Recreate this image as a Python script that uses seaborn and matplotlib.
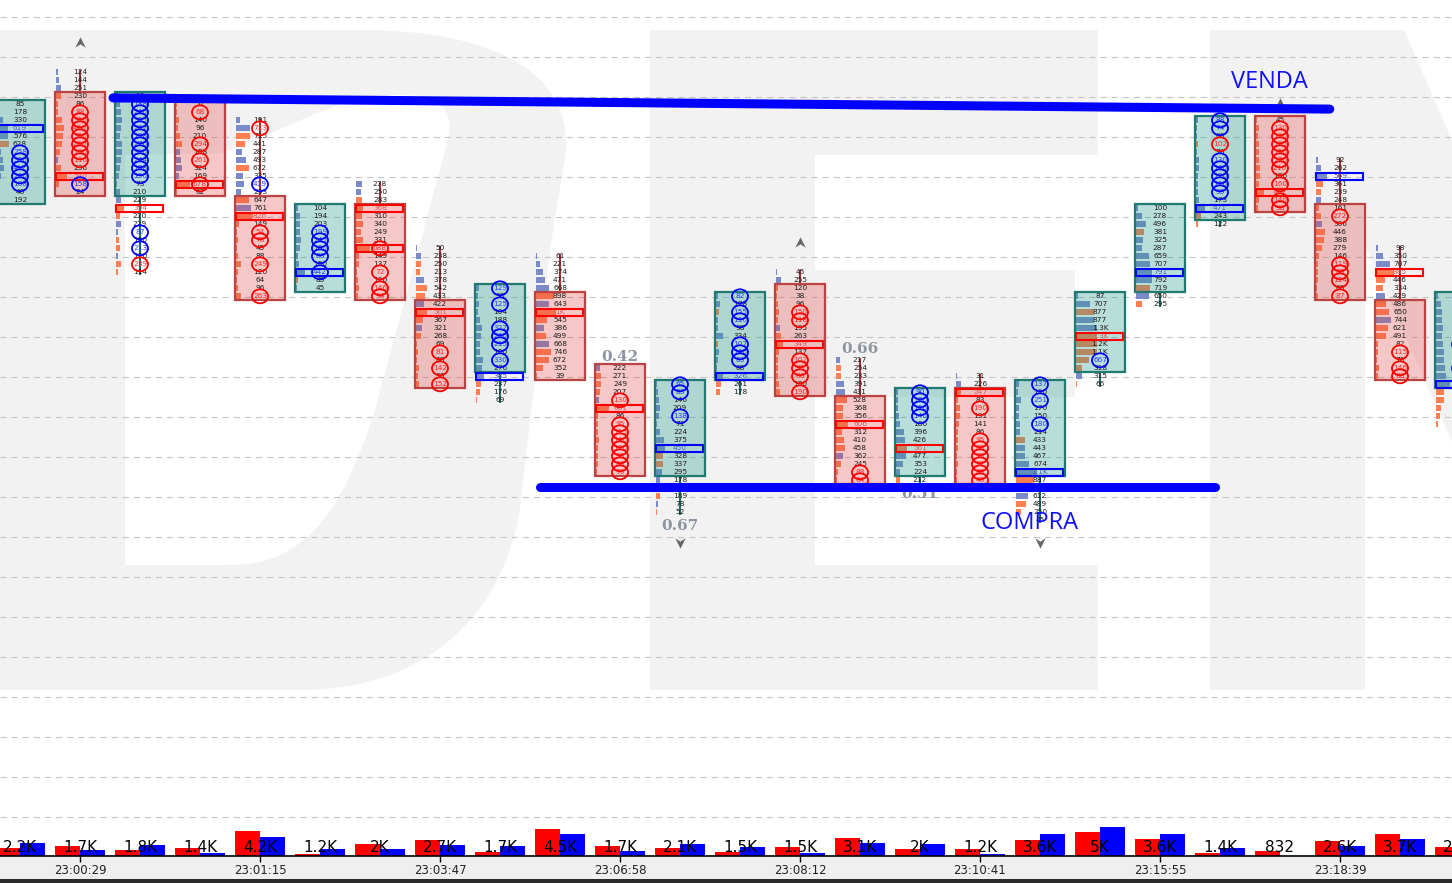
import numpy as np
import pandas as pd
import matplotlib
matplotlib.use("Agg")
import matplotlib.pyplot as plt
import seaborn as sns
from matplotlib.patches import Rectangle, Ellipse, Polygon, PathPatch
from matplotlib.path import Path
import matplotlib.transforms as mtransforms
from matplotlib.colors import to_rgba

# ---------------- data ----------------
time_labels = ["23:00:29", "23:01:15", "23:03:47", "23:06:58",
               "23:08:12", "23:10:41", "23:15:55", "23:18:39"]
time_pos = [1, 4, 7, 10, 13, 16, 19, 22]

candle_dir = "ududd" "uddud" "duudd" "uduuu" "udddu"
candle_top = [94, 98, 95, 94, 92, 81, 84, 76, 71, 75, 61, 59, 70, 73, 62, 58,
              60, 59, 70, 81, 92, 92, 87, 76, 70]
body_hi = [94, 95, 95, 94, 82, 81, 81, 69, 71, 70, 61, 59, 70, 71, 57, 58,
           58, 59, 70, 81, 92, 92, 81, 69, 70]
body_lo = [82, 83, 83, 83, 70, 71, 70, 59, 61, 60, 48, 48, 60, 58, 47, 48,
           47, 48, 61, 71, 80, 81, 70, 60, 59]
candle_vols = [
    [85, 178, 330, 619, 576, 628, 258, 330, 412, 260, 108, 40, 192],
    [124, 144, 251, 230, 86, 88, 310, 420, 350, 280, 190, 116, 236, 540, 158, 24],
    [96, 188, 240, 305, 262, 198, 276, 310, 244, 188, 156, 73, 210, 229, 394, 210,
     229, 87, 150, 213, 120, 239, 114],
    [51, 68, 140, 96, 210, 294, 188, 261, 324, 169, 678, 62],
    [191, 713, 715, 441, 287, 493, 672, 335, 419, 233, 647, 761, 826, 149, 54, 78,
     45, 88, 249, 120, 64, 96, 263],
    [104, 194, 203, 199, 245, 180, 88, 150, 442, 85, 45],
    [278, 250, 283, 368, 310, 340, 249, 331, 688, 149, 137, 72, 120, 146, 94],
    [50, 238, 250, 213, 378, 542, 433, 422, 561, 367, 321, 268, 69, 81, 60, 142, 90, 152],
    [129, 98, 125, 104, 188, 322, 260, 215, 180, 330, 276, 385, 237, 176, 69],
    [61, 221, 374, 471, 668, 898, 643, 1000, 545, 386, 499, 668, 746, 672, 352, 39],
    [222, 271, 249, 207, 130, 661, 86, 95, 115, 140, 120, 98, 86, 70],
    [65, 83, 146, 209, 138, 71, 224, 375, 450, 328, 337, 295, 178, 241, 189, 78, 52],
    [82, 178, 155, 110, 98, 334, 107, 140, 83, 68, 326, 261, 178],
    [45, 255, 120, 38, 96, 150, 118, 195, 263, 349, 137, 102, 95, 86, 130, 190],
    [217, 254, 233, 391, 431, 528, 368, 356, 606, 312, 410, 458, 362, 245, 88, 64],
    [90, 120, 116, 140, 186, 396, 426, 561, 477, 353, 224, 212],
    [31, 226, 247, 83, 190, 191, 141, 86, 95, 88, 70, 92, 66, 40],
    [137, 110, 251, 170, 150, 180, 214, 433, 443, 467, 674, 1100, 887, 760, 612,
     489, 250, 45],
    [87, 707, 877, 877, 1300, 1300, 1200, 1100, 667, 318, 315, 66],
    [100, 278, 496, 381, 325, 287, 659, 707, 791, 792, 719, 650, 295],
    [88, 74, 60, 102, 70, 130, 140, 120, 116, 95, 173, 471, 243, 122],
    [45, 130, 110, 125, 150, 170, 210, 186, 160, 422, 140, 98],
    [92, 262, 569, 361, 239, 248, 161, 272, 306, 446, 388, 279, 146, 119, 80, 124, 66, 87],
    [98, 350, 707, 885, 446, 334, 429, 486, 650, 744, 621, 491, 82, 115, 70, 146, 88],
    [120, 230, 310, 280, 350, 290, 330, 410, 380, 460, 520, 690, 420, 380, 250, 180, 90],
]
bar_colors = [
    "bbbbbobbbbbbb",
    "bbb" + "oooooooo" + "b" + "oooo",
    "b" * 13 + "boobbooboo",
    "oooooobbbboo",
    "bboobbobbbob" + "o" * 11,
    "bbbbbbbbbob",
    "bb" + "o" * 13,
    "bboobooboob" + "o" * 7,
    "b" * 12 + "ooo",
    "bbbbbobo" + "oboboooo",
    "booob" + "o" * 9,
    "b" * 9 + "oobboobo",
    "bbobbbobbbboo",
    "bb" + "ooooo" + "b" + "o" * 8,
    "boobb" + "o" * 7 + "b" + "ooo",
    "b" * 7 + "obbbo",
    "bb" + "o" * 12,
    "b" * 7 + "o" + "bbbb" + "oo" + "b" + "ooo",
    "bbobbooooobo",
    "bbbobbbbbbobo",
    "bbbobbbbbbbboo",
    "o" * 12,
    "bbboob" + "oob" + "o" * 9,
    "bbbooob" + "oob" + "o" * 7,
    "b" * 12 + "o" * 5,
]
poc_rows = [[91], [85], [81], [84], [80], [73], [81, 76], [68], [60], [68], [56], [51],
            [60], [64], [54], [51], [58], [48], [65], [73], [81], [83], [85], [73], [59]]
poc_colors = ["b", "r", "r", "r", "r", "b", "rr", "r", "b", "r", "r", "b",
              "b", "r", "r", "r", "r", "b", "r", "b", "b", "r", "b", "r", "b"]
circle_rows = [
    [88, 87, 86, 85, 84], [93, 92, 91, 90, 89, 88, 87, 84],
    [94, 93, 92, 91, 90, 89, 88, 87, 86, 85, 78, 76, 74], [93, 89, 87, 84],
    [91, 84, 78, 77, 74, 70], [78, 77, 76, 75, 73], [76, 73, 71, 70], [63, 61, 59],
    [71, 69, 66, 65, 64, 62], [], [57, 54, 53, 52, 51, 50, 49, 48], [59, 58, 55],
    [70, 68, 67, 64, 63, 62], [68, 67, 62, 61, 60, 58], [48, 47], [58, 57, 56, 55],
    [56, 52, 51, 50, 49, 48, 47], [59, 57, 54], [62], [],
    [92, 91, 89, 87, 86, 85, 84, 83], [91, 90, 89, 88, 87, 86, 84, 82, 81],
    [80, 74, 73, 72, 70], [63, 61, 60], [64, 61],
]
circle_colors = ["bbbbb", "rrrrrrrb", "bbbbbbbbbbbbr", "rrrr", "rbrrrr", "bbbbb", "rrrr",
                 "rrr", "bbbbbb", "", "rrrrrrrr", "bbb", "bbbbbb", "rrrrrr", "rr", "bbbb",
                 "rrrrrrr", "bbb", "b", "", "bbrbbbbb", "rrrrrrrrr", "rrrrr", "rrr", "bb"]

ratio_idx = [10, 11, 14, 15]
ratio_txt = ["0.42", "0.67", "0.66", "0.51"]
ratio_side = ["top", "bot", "top", "bot"]

arrow_idx = [1, 13, 21, 11, 17]
arrow_dir = ["up", "up", "up", "down", "down"]
arrow_gap = [3.8, 3.8, 2.2, 3.8, 2.8]

vol_sell = [800, 1000, 600, 800, 2500, 200, 1200, 1600, 400, 2700, 1000, 800, 400,
            900, 1800, 700, 700, 1600, 2400, 1700, 300, 500, 1500, 2200, 900]
vol_buy = [1300, 600, 1100, 300, 1900, 700, 700, 1100, 1000, 2200, 500, 1200, 900,
           300, 1300, 1200, 200, 2200, 2900, 2200, 800, 50, 1000, 1700, 600]
vol_labels = ["2.2K", "1.7K", "1.8K", "1.4K", "4.2K", "1.2K", "2K", "2.7K", "1.7K",
              "4.5K", "1.7K", "2.1K", "1.5K", "1.5K", "3.1K", "2K", "1.2K", "3.6K",
              "5K", "3.6K", "1.4K", "832", "2.6K", "3.7K", "2.4K"]

level_x = [[1.55, 21.83], [8.67, 19.92]]
level_y = [[94.8, 93.4], [46.2, 46.2]]
level_txt = ["VENDA", "COMPRA"]
level_txt_x = [20.83, 16.83]
level_txt_y = [96.8, 41.7]

# ---------------- style ----------------
sns.set_theme(style="white")
plt.rcParams["font.family"] = ["DejaVu Sans"]

W, H = 1452, 883
fig = plt.figure(figsize=(W / 100, H / 100), dpi=100, facecolor="#efefef")
ax = fig.add_axes([0, 27 / H, 1, 856 / H])
ax.set_facecolor("white")
XLIM = (-20 / 60, 1432 / 60)
YLIM = (0.3 / 8, 856.3 / 8)
for s in ax.spines.values():
    s.set_visible(False)
ax.set_xticks([])
ax.set_yticks([])

# watermark letters in pixel coordinates
pix = mtransforms.Affine2D().scale(1 / W, -1 / H).translate(0, 1) + fig.transFigure
WM = "#f2f2f2"
def px_patch(p, color, z):
    p.set_transform(pix)
    p.set_facecolor(color)
    p.set_edgecolor("none")
    p.set_zorder(z)
    ax.add_patch(p)

M, L, C, Z = Path.MOVETO, Path.LINETO, Path.CURVE4, Path.CLOSEPOLY
Dverts = [(-60, 30), (360, 30), (490, 30), (570, 70), (566, 150),
          (550, 250), (520, 507),
          (505, 610), (430, 690), (300, 690),
          (-60, 690), (-60, 30)]
Dcodes = [M, L, C, C, C, L, L, C, C, C, L, Z]
px_patch(PathPatch(Path(Dverts, Dcodes)), WM, 0.1)
Cverts = [(125, 565), (125, 155), (220, 153),
          (270, 140), (330, 95), (400, 95),
          (440, 95), (455, 110), (448, 140),
          (375, 410),
          (340, 520), (300, 565), (230, 565),
          (125, 565), (125, 565)]
Ccodes = [M, L, L, C, C, C, C, C, C, L, C, C, C, L, Z]
px_patch(PathPatch(Path(Cverts, Ccodes)), "white", 0.15)
for (x0, y0, x1, y1) in [(650, 30, 815, 690), (650, 30, 1098, 155),
                         (815, 270, 1075, 397), (650, 565, 1098, 690),
                         (1210, 30, 1365, 690)]:
    px_patch(Rectangle((x0, y0), x1 - x0, y1 - y0), WM, 0.1)
px_patch(Polygon([(1365, 30), (1404, 30), (2274, 2030), (2158, 2030),
                  (1367, 250), (1365, 250)]), WM, 0.1)

# grid
for g in np.arange(4.875, 107, 5):
    ax.axhline(g, color="#c4c4c4", lw=0.8, ls=(0, (5.5, 4.5)), zorder=0.5)

BLUE_BAR = "#7b8bc8"
ORANGE_BAR = "#ff7f50"
RED = "#ff0000"
BLUE = "#0000ff"
BW = 50 / 60

def fmt(v):
    if v >= 1000:
        return f"{v / 1000:.1f}".rstrip("0").rstrip(".") + "K"
    return str(v)

for i in range(len(candle_vols)):
    vols = np.array(candle_vols[i])
    rows = candle_top[i] - np.arange(len(vols))
    hi, lo = body_hi[i], body_lo[i]
    up = candle_dir[i] == "u"
    edge = "#1f7a6f" if up else "#bd4343"
    wick = "#1f6f64" if up else "#a83232"
    fill = to_rgba("#2a9d8f", 0.33) if up else to_rgba("#e04848", 0.30)

    lens = np.minimum(vols * 0.02, 21) / 60
    cstr = bar_colors[i]
    cols = [BLUE_BAR if (k < len(cstr) and cstr[k] == "b") else ORANGE_BAR
            for k in range(len(vols))]
    ax.barh(rows, lens, left=i - 24 / 60, height=0.78, color=cols, linewidth=0, zorder=1)

    if rows.max() > hi:
        ax.plot([i, i], [hi + 0.5, rows.max() + 0.35], color=wick, lw=1.5, zorder=1.5,
                solid_capstyle="butt")
    if rows.min() < lo:
        ax.plot([i, i], [rows.min() - 0.35, lo - 0.5], color=wick, lw=1.5, zorder=1.5,
                solid_capstyle="butt")
    ax.add_patch(Rectangle((i - BW / 2, lo - 0.5), BW, hi - lo + 1, facecolor=fill,
                           edgecolor=edge, lw=1.6, zorder=2))

    circ = dict(zip(circle_rows[i], circle_colors[i]))
    pocd = dict(zip(poc_rows[i], poc_colors[i]))
    for r, v in zip(rows, vols):
        if r in circ:
            tc = "#ff2a2a" if circ[r] == "r" else "#2a3cff"
        elif r in pocd:
            tc = "#e85a5a" if pocd[r] == "r" else "#4a5ad0"
        else:
            tc = "#1e1e1e"
        ax.text(i, r, fmt(v), ha="center", va="center", fontsize=5.3, color=tc,
                zorder=3, clip_on=True)
    for r, c in pocd.items():
        ax.add_patch(Rectangle((i - 24 / 60, r - 0.45), 47 / 60, 0.9, fill=False,
                               edgecolor=RED if c == "r" else BLUE, lw=1.5, zorder=4))
    for r, c in circ.items():
        ax.add_patch(Ellipse((i, r), 16 / 60, 14 / 8, fill=False,
                             edgecolor=RED if c == "r" else BLUE, lw=1.3, zorder=4))

# ratio labels
for k, i in enumerate(ratio_idx):
    nrow = len(candle_vols[i])
    y = candle_top[i] + 1.45 if ratio_side[k] == "top" else candle_top[i] - nrow + 1 - 1.7
    ax.text(i, y, ratio_txt[k], ha="center", va="center", fontsize=11,
            fontweight="bold", family="DejaVu Serif", color="#8c96a2", zorder=3)

# arrow markers
up_marker = [(0, 1), (1, -1), (0, -0.35), (-1, -1), (0, 1)]
dn_marker = [(x, -y) for x, y in up_marker]
for k, i in enumerate(arrow_idx):
    nrow = len(candle_vols[i])
    if arrow_dir[k] == "up":
        ax.scatter([i], [candle_top[i] + arrow_gap[k]], marker=up_marker, s=55,
                   color="#666666", linewidths=0, zorder=3)
    else:
        ax.scatter([i], [candle_top[i] - nrow + 1 - arrow_gap[k]], marker=dn_marker,
                   s=55, color="#666666", linewidths=0, zorder=3)

# support / resistance
for k in range(len(level_x)):
    ax.plot(level_x[k], level_y[k], color=BLUE, lw=6.5, solid_capstyle="round", zorder=8)
    ax.text(level_txt_x[k], level_txt_y[k], level_txt[k], ha="center", va="center",
            fontsize=17, color="#1010ff", family="Open Sans", zorder=9)

ax.set_xlim(*XLIM)
ax.set_ylim(*YLIM)

# ---------------- volume panel ----------------
axv = fig.add_axes([0, 27 / H, 1, 45 / H])
axv.set_facecolor("none")
n = len(vol_sell)
df = pd.DataFrame({
    "idx": list(range(n)) * 2,
    "vol": vol_sell + vol_buy,
    "side": ["sell"] * n + ["buy"] * n,
})
sns.barplot(data=df, x="idx", y="vol", hue="side", hue_order=["sell", "buy"],
            palette={"sell": RED, "buy": BLUE}, width=50 / 60, dodge=True,
            native_scale=True, saturation=1, errorbar=None, legend=False,
            linewidth=0, ax=axv)
for i in range(n):
    axv.text(i, 800, vol_labels[i], ha="center", va="center", fontsize=11,
             color="black", zorder=5, clip_on=True)
axv.set_xlim(*XLIM)
axv.set_ylim(0, 4500)
for name, s in axv.spines.items():
    s.set_visible(name == "bottom")
axv.spines["bottom"].set_color("black")
axv.spines["bottom"].set_linewidth(1.2)
axv.set_yticks([])
axv.set_xticks(time_pos)
axv.set_xticklabels(time_labels)
axv.tick_params(axis="x", bottom=True, length=4, width=1, color="black",
                labelsize=8.5, labelcolor="#222222", pad=2)
axv.set_xlabel("")
axv.set_ylabel("")

fig.patches.append(Rectangle((0, 0), 1, 4 / H, transform=fig.transFigure,
                             facecolor="#2a2a2a", edgecolor="none"))

fig.savefig("out.png", dpi=100, facecolor=fig.get_facecolor())
